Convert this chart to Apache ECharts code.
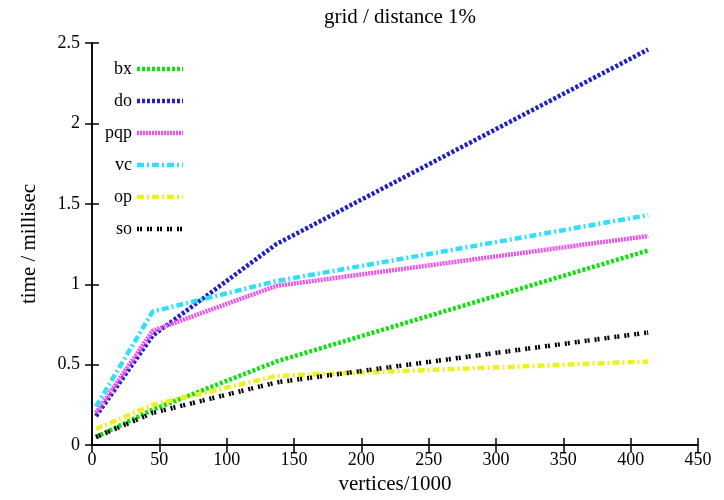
<!DOCTYPE html>
<html><head><meta charset="utf-8">
<script src="https://cdn.jsdelivr.net/npm/echarts@6/dist/echarts.min.js"></script>
<style>html,body{margin:0;padding:0;background:#fff}#c{width:724px;height:500px}</style>
</head><body><div id="c"></div>
<script>
const vertices = [3, 45, 137, 413];
const seriesNames = ['bx', 'do', 'pqp', 'vc', 'op', 'so'];
const bx  = [0.05, 0.22, 0.52, 1.21];
const dov = [0.18, 0.68, 1.25, 2.46];
const pqp = [0.20, 0.71, 0.99, 1.30];
const vc  = [0.24, 0.83, 1.02, 1.43];
const op  = [0.10, 0.25, 0.43, 0.52];
const so  = [0.05, 0.20, 0.39, 0.70];
const xTicks = [0, 50, 100, 150, 200, 250, 300, 350, 400, 450];
const yTicks = [0, 0.5, 1, 1.5, 2, 2.5];

const values = [bx, dov, pqp, vc, op, so];
const colors = ['#10e010', '#2020c8', '#f050f0', '#30e0f8', '#f0f020', '#000000'];
const dashes = [[3,2],[3,2],[2,1],[7,3,2,3],[7,3,2,3],[2,1,2,5]];
const font = '"Liberation Serif", "DejaVu Serif", serif';

const chart = echarts.init(document.getElementById('c'));
const axisCommon = {
  axisLine: {show: true, lineStyle: {color: '#000', width: 1.5}},
  axisTick: {show: true, inside: true, length: 7, lineStyle: {color: '#000', width: 1.5}},
  splitLine: {show: false}
};
chart.setOption({
  animation: false,
  backgroundColor: '#fff',
  title: {text: 'grid / distance 1%', left: 395, top: 2, textAlign: 'center',
    textStyle: {fontFamily: font, fontSize: 21, fontWeight: 'normal', color: '#000'}},
  grid: {left: 92, right: 26, top: 43, bottom: 53},
  legend: {
    orient: 'vertical', left: 100, top: 55, itemGap: 14, itemWidth: 46, itemHeight: 18,
    align: 'right',
    itemStyle: {opacity: 0},
    lineStyle: {width: 4.5},
    textStyle: {fontFamily: font, fontSize: 18, color: '#000', width: 30, align: 'right'},
    data: seriesNames
  },
  xAxis: [
    Object.assign({type: 'value', min: 0, max: 450, interval: 50, position: 'bottom',
      name: 'vertices/1000', nameLocation: 'middle', nameGap: 26,
      nameTextStyle: {fontFamily: font, fontSize: 21, color: '#000'},
      axisLabel: {fontFamily: font, fontSize: 18, color: '#000', margin: 6}}, axisCommon),
    Object.assign({type: 'value', min: 0, max: 450, interval: 50, position: 'top',
      axisLabel: {show: false}}, axisCommon)
  ],
  yAxis: [
    Object.assign({type: 'value', min: 0, max: 2.5, interval: 0.5, position: 'left',
      name: 'time / millisec', nameLocation: 'middle', nameGap: 52, nameRotate: 90,
      nameTextStyle: {fontFamily: font, fontSize: 21, color: '#000'},
      axisLabel: {fontFamily: font, fontSize: 18, color: '#000', margin: 12,
        formatter: v => String(v)}}, axisCommon),
    Object.assign({type: 'value', min: 0, max: 2.5, interval: 0.5, position: 'right',
      axisLabel: {show: false}}, axisCommon)
  ],
  series: seriesNames.map((n, i) => ({
    name: n, type: 'line', xAxisIndex: 0, yAxisIndex: 0,
    data: vertices.map((x, j) => [x, values[i][j]]),
    showSymbol: false, symbol: 'none',
    lineStyle: {color: colors[i], width: 4.5, type: dashes[i], cap: 'butt'},
    itemStyle: {color: colors[i]}
  }))
});
</script></body></html>
